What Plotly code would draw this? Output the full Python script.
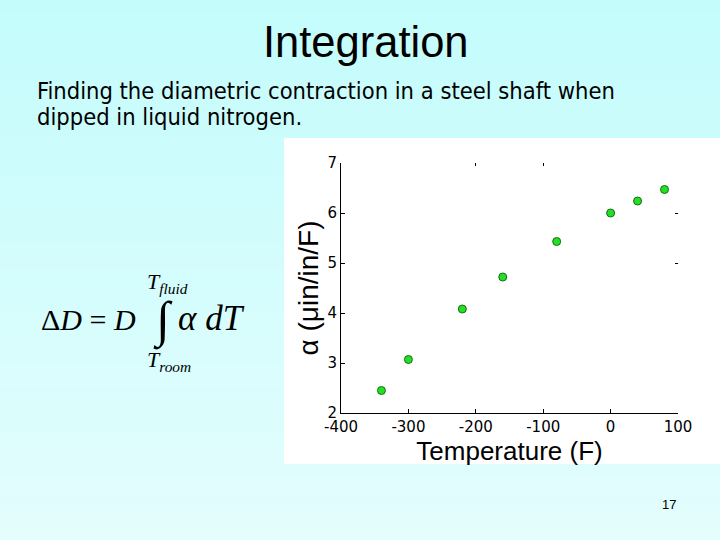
import plotly.graph_objects as go

# ---- data ----
temperature_F = [-340, -300, -220, -160, -80, 0, 40, 80]
alpha_uin = [2.45, 3.07, 4.08, 4.72, 5.43, 6.00, 6.24, 6.47]
x_ticks = [-400, -300, -200, -100, 0, 100]
y_ticks = [2, 3, 4, 5, 6, 7]

W, H = 720, 540
def px(x):
    return x / W
def py(y):
    return 1 - y / H

fig = go.Figure()
fig.add_trace(go.Scatter(
    x=temperature_F, y=alpha_uin, mode="markers",
    marker=dict(size=8, color="#22E022", line=dict(color="#1A6A1A", width=1)),
    showlegend=False, xaxis="x", yaxis="y", hoverinfo="skip"))

shapes = []
# background vertical gradient
n = 40
top = (196, 252, 252)
bot = (228, 253, 253)
for i in range(n):
    t = i / (n - 1)
    c = tuple(int(round(top[k] + (bot[k] - top[k]) * t)) for k in range(3))
    shapes.append(dict(type="rect", xref="paper", yref="paper", layer="below",
                       x0=0, x1=1, y0=1 - (i + 1) / n, y1=1 - i / n,
                       fillcolor="rgb(%d,%d,%d)" % c, line=dict(width=0)))
# white figure panel
shapes.append(dict(type="rect", xref="paper", yref="paper", layer="below",
                   x0=px(284), x1=1.0, y0=py(464), y1=py(138),
                   fillcolor="white", line=dict(width=0)))

xdom = [px(341), px(678)]
ydom = [py(413), py(163)]
tickfont = dict(family="DejaVu Sans", size=15, color="black")
body = dict(family="DejaVu Sans Condensed", size=23.5, color="black")
serif = dict(family="Liberation Serif", size=30, color="black")
serif2 = dict(family="Liberation Serif", size=35, color="black")
limfont = dict(family="Liberation Serif", size=22, color="black")

annotations = [
    dict(text="Integration", x=px(366), y=py(42), xref="paper", yref="paper",
         showarrow=False, font=dict(family="Liberation Sans", size=43.5, color="black"),
         xanchor="center", yanchor="middle"),
    dict(text="Finding the diametric contraction in a steel shaft when",
         x=px(35), y=py(91), xref="paper", yref="paper", showarrow=False,
         font=body, xanchor="left", yanchor="middle"),
    dict(text="dipped in liquid nitrogen.",
         x=px(35), y=py(117), xref="paper", yref="paper", showarrow=False,
         font=body, xanchor="left", yanchor="middle"),
    dict(text="Δ<i>D</i> = <i>D</i>", x=px(39), y=py(319), xref="paper", yref="paper",
         showarrow=False, font=serif, xanchor="left", yanchor="middle"),
    dict(text="∫", x=px(163), y=py(320), xref="paper", yref="paper",
         showarrow=False, font=dict(family="Liberation Serif", size=50, color="black"),
         xanchor="center", yanchor="middle"),
    dict(text="<i>α</i> <i>dT</i>", x=px(176), y=py(318), xref="paper", yref="paper",
         showarrow=False, font=serif2, xanchor="left", yanchor="middle"),
    dict(text="<i>T</i><sub><i>fluid</i></sub>", x=px(145), y=py(283), xref="paper", yref="paper",
         showarrow=False, font=limfont, xanchor="left", yanchor="middle"),
    dict(text="<i>T</i><sub><i>room</i></sub>", x=px(145), y=py(361), xref="paper", yref="paper",
         showarrow=False, font=limfont, xanchor="left", yanchor="middle"),
    dict(text="17", x=px(669), y=py(504), xref="paper", yref="paper",
         showarrow=False, font=dict(family="Liberation Sans", size=13, color="black"),
         xanchor="center", yanchor="middle"),
]

fig.update_layout(
    width=W, height=H, margin=dict(l=0, r=0, t=0, b=0, pad=0, autoexpand=False),
    paper_bgcolor="rgb(196,252,252)", plot_bgcolor="rgba(0,0,0,0)",
    shapes=shapes, annotations=annotations,
    xaxis=dict(domain=xdom, range=[-400, 100], tickvals=x_ticks,
               ticktext=[str(v) for v in x_ticks], showgrid=False, zeroline=False,
               showline=True, linecolor="black", linewidth=1, ticks="inside",
               ticklen=4, tickcolor="black", tickfont=tickfont, anchor="y",
               automargin=False,
               title=dict(text="Temperature (F)", standoff=0,
                          font=dict(family="Liberation Sans", size=26, color="black"))),
    yaxis=dict(domain=ydom, range=[2, 7], tickvals=y_ticks,
               showgrid=False, zeroline=False, automargin=False,
               showline=True, linecolor="black", linewidth=1, ticks="inside",
               ticklen=4, tickcolor="black", tickfont=tickfont, anchor="x",
               title=dict(text="α (μin/in/F)", standoff=0,
                          font=dict(family="Liberation Sans", size=28, color="black"))),
    xaxis2=dict(domain=xdom, range=[-400, 100], overlaying="x", side="top",
                tickvals=[-200, -100], showticklabels=False, ticks="inside",
                ticklen=3, tickcolor="black", showgrid=False, zeroline=False,
                showline=False, anchor="y", automargin=False),
    yaxis2=dict(domain=ydom, range=[2, 7], overlaying="y", side="right",
                tickvals=[5, 6], showticklabels=False, ticks="inside",
                ticklen=3, tickcolor="black", showgrid=False, zeroline=False,
                showline=False, anchor="x", automargin=False),
)
fig.add_trace(go.Scatter(x=[None], y=[None], xaxis="x2", yaxis="y2", showlegend=False))

fig.write_html("out.html", config={"displayModeBar": False},
               post_script="document.body.style.margin='0px';document.body.style.overflow='hidden';")
